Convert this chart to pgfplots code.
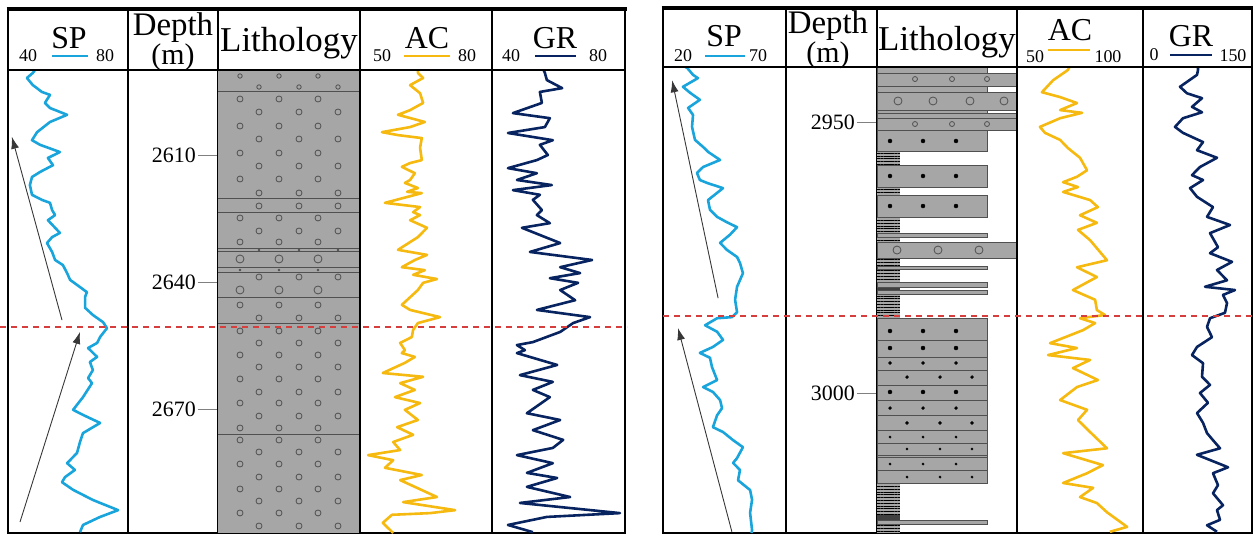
\documentclass[border=0pt]{standalone}
\usepackage{fontspec}
\setmainfont{Liberation Serif}
\usepackage{pgfplots}
\pgfplotsset{compat=1.18}
\usetikzlibrary{arrows.meta,patterns.meta}

\definecolor{spc}{RGB}{25,165,220}
\definecolor{acc}{RGB}{245,185,15}
\definecolor{grc}{RGB}{8,36,96}
\definecolor{lith}{RGB}{166,166,166}
\definecolor{bedline}{RGB}{80,80,80}
\definecolor{redline}{RGB}{214,62,62}
\definecolor{arrowc}{RGB}{55,55,55}

\newcommand{\hfont}{\fontsize{35}{38}\selectfont}
\newcommand{\dpfont}{\fontsize{33}{36}\selectfont}
\newcommand{\mfont}{\fontsize{30}{32}\selectfont}
\newcommand{\lfont}{\fontsize{32}{34}\selectfont}
\newcommand{\sfont}{\fontsize{18}{20}\selectfont}
\newcommand{\dfont}{\fontsize{22}{24}\selectfont}

\pgfplotsset{
  track/.style={scale only axis, anchor=north west, y dir=reverse,
    xtick=\empty, ytick=\empty, axis line style={line width=1.6bp}},
  lpan/.style={track, height=463bp, ymin=2589.92, ymax=2699.30},
  rpan/.style={track, height=466bp, ymin=2939.85, ymax=3025.83},
  logline/.style={line width=2.6bp, line join=round, no marks},
  beds/.style={fill=lith, draw=bedline, line width=0.8bp},
  depthticks/.style={ytick pos=left, tick align=outside, major tick length=20bp,
    tick style={line width=0.9bp, color=gray},
    yticklabel style={font=\dfont, inner sep=2bp},
    /pgf/number format/assume math mode=true,
    /pgf/number format/1000 sep={}},
  pebble/.style={only marks, mark=o, mark options={draw=bedline, line width=0.8bp}},
  grain/.style={only marks, mark=*, mark options={fill=black, draw=black}},
  trend/.style={arrowc, line width=0.9bp, -{Latex[length=12bp,width=8bp]}, no marks},
  boundary/.style={redline, line width=2.4bp, dash pattern=on 6bp off 5bp, no marks},
}
\newcommand{\bed}[3]{\addplot[beds] coordinates {(0,#1) (#3,#1) (#3,#2) (0,#2)} -- cycle;}

\begin{document}
\begin{tikzpicture}
\useasboundingbox (0,0) rectangle (1254bp,-534bp);

% ================= left well =================
% SP
\begin{axis}[lpan, at={(8bp,-70bp)}, width=120bp, xmin=40, xmax=80]
\addplot[spc, logline] coordinates {
(49.0,2589.9) (48.3,2590.6) (46.3,2591.8) (48.3,2593.5) (51.3,2595.1) (54.0,2595.8) (52.3,2597.7)
(54.0,2598.9) (59.7,2600.5) (54.0,2602.2) (49.7,2604.6) (48.0,2606.5) (50.7,2607.6)
(57.3,2609.3) (53.3,2610.7) (55.0,2612.4) (50.7,2614.0) (48.0,2615.2) (47.3,2617.1)
(48.0,2619.4) (51.3,2620.6) (54.0,2621.3) (54.7,2623.0) (55.7,2624.2) (53.3,2625.4)
(57.3,2628.4) (54.7,2629.4) (53.0,2630.8) (54.7,2632.9) (55.7,2634.8) (58.3,2636.0)
(59.7,2637.9) (60.7,2639.5) (64.0,2641.2) (66.3,2642.4) (65.7,2643.5) (65.7,2646.1)
(68.3,2647.8) (71.7,2649.5) (73.0,2650.9) (70.7,2653.0) (69.7,2654.4) (66.7,2655.6)
(69.7,2657.7) (67.3,2658.9) (68.3,2660.8) (66.7,2662.7) (68.0,2663.9) (65.0,2667.2)
(61.7,2670.2) (65.0,2671.4) (70.7,2673.3) (65.0,2675.7) (64.0,2677.8) (63.0,2680.4)
(59.7,2682.8) (62.3,2684.4) (59.0,2686.1) (58.0,2687.3) (61.7,2689.1) (68.3,2691.5)
(76.7,2693.9) (70.7,2695.5) (65.0,2697.4) (64.0,2699.1)};
\addplot[trend] coordinates {(58.0,2649.0) (41.3,2605.7)};
\addplot[trend] coordinates {(44.0,2696.7) (64.0,2651.8)};
\end{axis}
% depth column
\begin{axis}[lpan, at={(128bp,-70bp)}, width=90bp, xmin=0, xmax=1]
\end{axis}
% lithology
\begin{axis}[lpan, at={(218bp,-70bp)}, width=142bp, xmin=0, xmax=142,
  depthticks, ytick={2610,2640,2670}]
\addplot[fill=lith, draw=none] coordinates {(0,2589.92) (142,2589.92) (142,2699.30) (0,2699.30)} -- cycle;
\addplot[bedline, line width=1bp, unbounded coords=jump] coordinates {
(0,2595.11) (142,2595.11) (0,nan) (0,2620.39) (142,2620.39) (0,nan)
(0,2623.70) (142,2623.70) (0,nan) (0,2631.97) (142,2631.97) (0,nan)
(0,2632.68) (142,2632.68) (0,nan) (0,2636.69) (142,2636.69) (0,nan)
(0,2637.64) (142,2637.64) (0,nan) (0,2643.78) (142,2643.78) (0,nan)
(0,2649.92) (142,2649.92) (0,nan) (0,2675.91) (142,2675.91)};
% small pebbles
\addplot[pebble, mark size=2.2bp] coordinates {
(22,2591.33) (61,2591.33) (100,2591.33) (41,2593.93) (81,2593.93) (120,2593.93)};
% pebbles, odd rows
\addplot[pebble, mark size=3bp] coordinates {
(22,2596.77) (61,2596.77) (100,2596.77) (22,2603.15) (61,2603.15) (100,2603.15)
(22,2609.53) (61,2609.53) (100,2609.53) (22,2615.67) (61,2615.67) (100,2615.67)
(22,2624.88) (61,2624.88) (100,2624.88) (22,2630.55) (61,2630.55) (100,2630.55)
(22,2645.43) (61,2645.43) (100,2645.43) (22,2651.57) (61,2651.57) (100,2651.57)
(22,2657.24) (61,2657.24) (100,2657.24) (22,2662.91) (61,2662.91) (100,2662.91)
(22,2668.59) (61,2668.59) (100,2668.59) (22,2674.49) (61,2674.49) (100,2674.49)
(22,2677.33) (61,2677.33) (100,2677.33) (22,2683.00) (61,2683.00) (100,2683.00)
(22,2688.90) (61,2688.90) (100,2688.90) (22,2694.57) (61,2694.57) (100,2694.57)};
% pebbles, even rows
\addplot[pebble, mark size=3bp] coordinates {
(41,2599.84) (81,2599.84) (120,2599.84) (41,2606.22) (81,2606.22) (120,2606.22)
(41,2612.60) (81,2612.60) (120,2612.60) (41,2618.97) (81,2618.97) (120,2618.97)
(41,2622.04) (81,2622.04) (120,2622.04) (41,2627.95) (81,2627.95) (120,2627.95)
(41,2638.82) (81,2638.82) (120,2638.82) (41,2648.50) (81,2648.50) (120,2648.50)
(41,2654.41) (81,2654.41) (120,2654.41) (41,2660.08) (81,2660.08) (120,2660.08)
(41,2665.99) (81,2665.99) (120,2665.99) (41,2671.66) (81,2671.66) (120,2671.66)
(41,2680.16) (81,2680.16) (120,2680.16) (41,2686.07) (81,2686.07) (120,2686.07)
(41,2691.74) (81,2691.74) (120,2691.74) (41,2697.64) (81,2697.64) (120,2697.64)};
% large pebbles
\addplot[pebble, mark size=4bp] coordinates {
(22,2634.56) (61,2634.56) (100,2634.56) (22,2641.89) (61,2641.89) (100,2641.89)};
% granules
\addplot[pebble, mark size=0.9bp] coordinates {
(41,2632.44) (81,2632.44) (120,2632.44) (22,2637.16) (61,2637.16) (100,2637.16)};
\end{axis}
% AC
\begin{axis}[lpan, at={(360bp,-70bp)}, width=132bp, xmin=49.54, xmax=80]
\addplot[acc, logline] coordinates {
(62.9,2589.9) (62.9,2590.6) (64.1,2591.8) (61.1,2593.5) (63.4,2595.4) (64.1,2597.7) (61.1,2599.4)
(58.3,2600.5) (64.5,2602.2) (61.1,2603.4) (54.6,2604.6) (58.3,2605.3) (63.8,2606.0)
(63.4,2608.3) (63.8,2611.2) (61.1,2611.9) (59.2,2612.8) (62.2,2614.3) (61.1,2615.9)
(59.9,2616.6) (62.9,2617.8) (60.4,2618.7) (63.8,2619.0) (55.3,2621.3) (63.4,2622.3)
(61.8,2623.5) (63.4,2624.2) (61.1,2625.4) (65.0,2627.2) (62.9,2629.4) (58.3,2632.4)
(65.0,2633.6) (62.2,2634.8) (59.2,2636.5) (64.5,2637.2) (61.8,2638.3) (67.3,2639.3)
(64.1,2640.2) (62.9,2641.9) (59.2,2645.4) (61.1,2646.6) (68.0,2648.3) (62.9,2649.7)
(61.8,2651.3) (61.5,2653.0) (58.8,2654.4) (59.9,2656.1) (59.2,2656.8) (62.2,2657.7)
(59.9,2659.1) (54.8,2661.5) (64.1,2662.4) (58.8,2663.9) (62.2,2665.5) (57.6,2667.2)
(63.4,2668.6) (59.9,2670.2) (62.9,2672.6) (58.1,2674.3) (61.8,2676.1) (57.2,2677.8)
(58.8,2679.7) (51.4,2680.9) (57.2,2682.1) (55.3,2683.9) (63.8,2685.6) (58.8,2686.8)
(67.3,2690.8) (59.5,2692.0) (71.5,2693.9) (65.7,2694.6) (56.9,2695.0) (54.8,2696.9)
(57.2,2699.3)};
\end{axis}
% GR
\begin{axis}[lpan, at={(492bp,-70bp)}, width=133bp, xmin=40, xmax=80]
\addplot[grc, logline] coordinates {
(55.5,2589.9) (55.9,2590.6) (56.5,2592.3) (61.1,2594.2) (54.4,2595.1) (55.0,2597.7) (46.3,2600.1)
(57.4,2601.3) (55.9,2603.4) (44.8,2604.8) (58.3,2606.5) (54.4,2607.6) (56.8,2610.0)
(53.5,2611.2) (44.8,2613.1) (53.5,2614.3) (47.5,2615.9) (58.0,2617.1) (46.3,2618.3)
(54.4,2619.4) (52.3,2620.6) (55.0,2623.0) (53.5,2624.2) (57.4,2626.1) (49.0,2627.2)
(60.5,2630.8) (51.4,2632.9) (70.1,2634.8) (60.5,2636.5) (66.5,2637.9) (57.4,2639.1)
(65.9,2640.2) (60.5,2641.9) (65.0,2644.3) (53.5,2646.6) (69.5,2648.3) (64.4,2649.7)
(60.5,2651.8) (52.3,2654.2) (47.5,2654.9) (49.9,2656.1) (47.5,2656.8) (59.6,2659.6)
(48.4,2662.0) (58.3,2663.6) (52.3,2665.5) (57.4,2667.2) (50.5,2671.0) (60.5,2672.6)
(52.3,2675.0) (61.4,2677.3) (58.3,2679.2) (47.5,2680.9) (58.3,2682.8) (50.5,2685.1)
(59.6,2686.3) (50.5,2688.4) (63.5,2690.8) (48.4,2692.2) (78.5,2694.6) (56.5,2695.5)
(44.8,2697.4) (52.3,2699.1)};
\end{axis}
% boundary line
\begin{axis}[lpan, at={(0bp,-70bp)}, width=627bp, xmin=0, xmax=627, hide axis, clip=false]
\addplot[boundary] coordinates {(0,2650.63) (627,2650.63)};
\end{axis}

% ================= right well =================
% SP
\begin{axis}[rpan, at={(663bp,-67bp)}, width=123bp, xmin=20, xmax=70]
\addplot[spc, logline] coordinates {
(29.0,2939.85) (29.8,2940.0) (32.2,2941.3) (34.2,2941.9) (28.1,2943.5) (31.0,2944.6) (35.0,2945.9)
(30.2,2947.4) (32.2,2948.7) (31.8,2950.9) (33.0,2953.3) (36.3,2954.6) (38.3,2955.5)
(43.2,2957.0) (36.3,2958.3) (33.8,2959.4) (35.0,2960.7) (38.3,2961.3) (44.4,2962.2)
(38.3,2964.4) (39.1,2966.2) (42.0,2967.5) (46.0,2968.5) (50.1,2969.4) (47.2,2970.8)
(43.2,2972.3) (46.0,2973.6) (50.1,2974.9) (51.3,2976.0) (52.5,2977.9) (50.1,2980.4)
(49.3,2982.8) (50.1,2985.1) (48.0,2986.0) (42.0,2986.2) (37.1,2987.5) (42.0,2988.7)
(44.4,2990.2) (40.3,2991.5) (35.0,2992.6) (39.1,2993.5) (39.9,2995.2) (42.0,2997.6)
(36.3,2998.9) (40.3,2999.8) (43.2,3001.3) (44.0,3002.8) (42.0,3004.1) (40.3,3006.3)
(44.4,3007.2) (48.5,3008.7) (52.5,3010.0) (50.1,3012.0) (48.5,3012.9) (51.3,3014.2)
(50.5,3016.1) (55.4,3017.9) (56.2,3019.7) (55.4,3022.1) (56.2,3025.3) (56.0,3025.83)};
\addplot[trend] coordinates {(42.4,2982.5) (23.7,2942.3)};
\addplot[trend] coordinates {(48.0,3025.6) (26.1,2988.0)};
\end{axis}
% depth column
\begin{axis}[rpan, at={(786bp,-67bp)}, width=91bp, xmin=0, xmax=1]
\end{axis}
% lithology
\begin{axis}[rpan, at={(877bp,-67bp)}, width=140bp, xmin=0, xmax=140,
  depthticks, ytick={2950,3000}]
% mudstone column
\addplot[fill=lith, draw=none, postaction={pattern color=black,
  pattern={Lines[angle=0,distance=2.8bp,line width=0.7bp]}}]
  coordinates {(0,2955.35) (23,2955.35) (23,3025.83) (0,3025.83)} -- cycle;
\addplot[fill=black!75, draw=none] coordinates {(0,2980.44) (23,2980.44) (23,2980.99) (0,2980.99)} -- cycle;
\addplot[fill=black!75, draw=none] coordinates {(0,3022.51) (23,3022.51) (23,3023.43) (0,3023.43)} -- cycle;
\bed{2939.85}{2940.96}{110}
\bed{2940.96}{2943.36}{140}
\bed{2943.36}{2944.46}{110}
\bed{2944.46}{2947.79}{140}
\bed{2947.79}{2948.34}{110}
\bed{2948.34}{2949.26}{140}
\bed{2949.26}{2951.48}{140}
\bed{2951.48}{2955.35}{110}
\bed{2957.93}{2961.99}{110}
\bed{2963.47}{2967.53}{110}
\bed{2970.48}{2971.22}{110}
\bed{2972.14}{2975.09}{140}
\bed{2976.57}{2977.12}{110}
\bed{2979.52}{2980.44}{110}
\bed{2980.99}{2981.73}{110}
\bed{2986.16}{3016.60}{110}
\bed{3023.43}{3024.17}{110}
\addplot[bedline, line width=0.8bp, unbounded coords=jump] coordinates {
(0,2990.22) (110,2990.22) (0,nan) (0,2993.36) (110,2993.36) (0,nan)
(0,2995.75) (110,2995.75) (0,nan) (0,2998.52) (110,2998.52) (0,nan)
(0,3001.29) (110,3001.29) (0,nan) (0,3004.06) (110,3004.06) (0,nan)
(0,3006.83) (110,3006.83) (0,nan) (0,3009.22) (110,3009.22) (0,nan)
(0,3011.44) (110,3011.44) (0,nan) (0,3011.81) (110,3011.81) (0,nan)
(0,3014.21) (110,3014.21)};
% pebbles
\addplot[pebble, mark size=2.5bp] coordinates {
(38,2942.07) (75,2942.07) (110,2942.07) (38,2950.37) (75,2950.37) (110,2950.37)};
\addplot[pebble, mark size=4bp] coordinates {
(21,2946.12) (56,2946.12) (93,2946.12) (127,2946.12)
(20,2973.62) (61,2973.62) (102,2973.62)};
% sand grains
\addplot[grain, mark size=2bp] coordinates {
(13,2953.50) (46,2953.50) (79,2953.50) (13,2959.96) (46,2959.96) (79,2959.96)
(13,2965.50) (46,2965.50) (79,2965.50) (13,2988.56) (46,2988.56) (79,2988.56)
(13,2991.70) (46,2991.70) (79,2991.70) (13,2999.81) (46,2999.81) (79,2999.81)};
\addplot[grain, mark size=1.5bp] coordinates {
(13,2994.46) (46,2994.46) (79,2994.46) (13,3002.77) (46,3002.77) (79,3002.77)
(30,2997.05) (63,2997.05) (95,2997.05) (30,3005.53) (63,3005.53) (95,3005.53)};
\addplot[grain, mark size=1.2bp] coordinates {
(13,3008.12) (46,3008.12) (79,3008.12) (13,3013.10) (46,3013.10) (79,3013.10)
(30,3010.33) (63,3010.33) (95,3010.33) (30,3015.50) (63,3015.50) (95,3015.50)};
\end{axis}
% AC
\begin{axis}[rpan, at={(1017bp,-67bp)}, width=126bp, xmin=50, xmax=100]
\addplot[acc, logline] coordinates {
(70.8,2939.85) (70.2,2940.4) (64.3,2942.3) (59.9,2944.5) (67.1,2945.4) (73.8,2946.5) (67.1,2947.8)
(75.8,2948.3) (67.1,2949.3) (59.1,2950.9) (61.1,2952.0) (67.1,2953.3) (70.2,2954.8)
(75.0,2956.6) (77.8,2958.9) (73.8,2960.1) (68.3,2961.1) (74.2,2962.0) (68.3,2962.9)
(79.0,2964.4) (82.1,2965.7) (75.0,2967.2) (81.7,2968.6) (74.2,2969.9) (79.0,2971.8)
(85.7,2975.5) (73.8,2976.8) (81.7,2978.6) (72.2,2981.0) (81.0,2982.8) (81.7,2984.7)
(84.9,2985.6) (75.0,2986.2) (81.0,2987.1) (76.2,2988.4) (63.1,2990.8) (73.8,2991.7)
(62.3,2993.0) (79.0,2993.9) (72.2,2995.4) (82.1,2997.6) (73.8,2998.9) (67.1,3001.3)
(77.8,3003.1) (74.2,3005.0) (79.0,3007.2) (85.7,3010.2) (68.3,3011.1) (84.1,3013.3)
(77.8,3014.8) (68.3,3016.6) (80.2,3017.5) (75.0,3019.2) (81.7,3020.3) (85.7,3022.0)
(93.7,3024.7) (86.9,3025.6)};
\end{axis}
% GR
\begin{axis}[rpan, at={(1143bp,-67bp)}, width=109bp, xmin=0, xmax=150]
\addplot[grc, logline] coordinates {
(75.7,2939.85) (75.7,2940.4) (74.3,2941.3) (50.9,2943.5) (60.5,2944.7) (81.2,2945.6) (67.4,2947.2)
(81.2,2948.2) (55.0,2949.3) (44.0,2950.9) (55.0,2952.0) (82.6,2953.7) (74.3,2955.2)
(101.8,2956.6) (78.4,2958.3) (67.4,2959.8) (82.6,2960.7) (64.7,2962.2) (74.3,2963.8)
(96.3,2965.7) (88.1,2967.5) (119.7,2969.0) (92.2,2970.5) (103.2,2973.1) (92.2,2974.2)
(122.5,2975.8) (101.8,2977.3) (115.6,2979.2) (85.3,2980.4) (126.6,2981.0) (110.1,2981.9)
(115.6,2983.4) (112.8,2985.2) (92.2,2986.2) (88.1,2987.8) (94.9,2989.7) (74.3,2991.5)
(67.4,2993.0) (82.6,2994.5) (81.2,2997.0) (92.2,2998.5) (78.4,3000.0) (89.4,3001.8)
(74.3,3003.7) (82.6,3005.5) (88.1,3007.4) (96.3,3008.7) (106.0,3010.2) (74.3,3011.4)
(117.0,3013.7) (96.3,3014.8) (103.2,3017.0) (96.3,3018.5) (110.1,3020.7) (101.8,3021.6)
(106.0,3023.4) (88.1,3024.4) (101.8,3025.6)};
\end{axis}
% boundary line
\begin{axis}[rpan, at={(663bp,-67bp)}, width=591bp, xmin=663, xmax=1254, hide axis, clip=false]
\addplot[boundary] coordinates {(663,2985.79) (1254,2985.79)};
\end{axis}

% ================= headers =================
\draw[line width=1.6bp] (8bp,-9bp) rectangle (625bp,-70bp);
\foreach \xx in {128,218,360,492} \draw[line width=1.6bp] (\xx bp,-9bp) -- (\xx bp,-70bp);
\draw[line width=3.2bp] (6.5bp,-9bp) -- (626.5bp,-9bp);
\draw[line width=1.6bp] (663bp,-8bp) rectangle (1252bp,-67bp);
\foreach \xx in {786,877,1017,1143} \draw[line width=1.6bp] (\xx bp,-8bp) -- (\xx bp,-67bp);
\draw[line width=3.2bp] (661.5bp,-8bp) -- (1253bp,-8bp);

\begin{scope}[every node/.style={anchor=base, inner sep=0pt}]
% left
\node at (28bp,-61bp) {\sfont 40};
\node at (69bp,-48bp) {\lfont SP};
\draw[spc, line width=2.6bp] (52bp,-56bp) -- (88bp,-56bp);
\node at (105bp,-61bp) {\sfont 80};
\node at (173bp,-35bp) {\dpfont Depth};
\node at (173bp,-64bp) {\mfont (m)};
\node at (289bp,-51bp) {\hfont Lithology};
\node at (382bp,-61bp) {\sfont 50};
\node at (427bp,-48bp) {\lfont AC};
\draw[acc, line width=2.6bp] (404bp,-56bp) -- (450bp,-56bp);
\node at (467bp,-61bp) {\sfont 80};
\node at (511bp,-61bp) {\sfont 40};
\node at (555bp,-48bp) {\lfont GR};
\draw[grc, line width=2.6bp] (535bp,-56bp) -- (576bp,-56bp);
\node at (598bp,-61bp) {\sfont 80};
% right
\node at (683bp,-61bp) {\sfont 20};
\node at (724bp,-46bp) {\lfont SP};
\draw[spc, line width=2.6bp] (705bp,-56bp) -- (745bp,-56bp);
\node at (758bp,-61bp) {\sfont 70};
\node at (828bp,-33bp) {\dpfont Depth};
\node at (828bp,-62bp) {\mfont (m)};
\node at (947bp,-50bp) {\hfont Lithology};
\node at (1035bp,-62bp) {\sfont 50};
\node at (1070bp,-40bp) {\lfont AC};
\draw[acc, line width=2.6bp] (1048bp,-50bp) -- (1090bp,-50bp);
\node at (1108bp,-62bp) {\sfont 100};
\node at (1154bp,-60bp) {\sfont 0};
\node at (1191bp,-46bp) {\lfont GR};
\draw[grc, line width=2.6bp] (1170bp,-55bp) -- (1212bp,-55bp);
\node at (1233bp,-61bp) {\sfont 150};
\end{scope}
\end{tikzpicture}
\end{document}
